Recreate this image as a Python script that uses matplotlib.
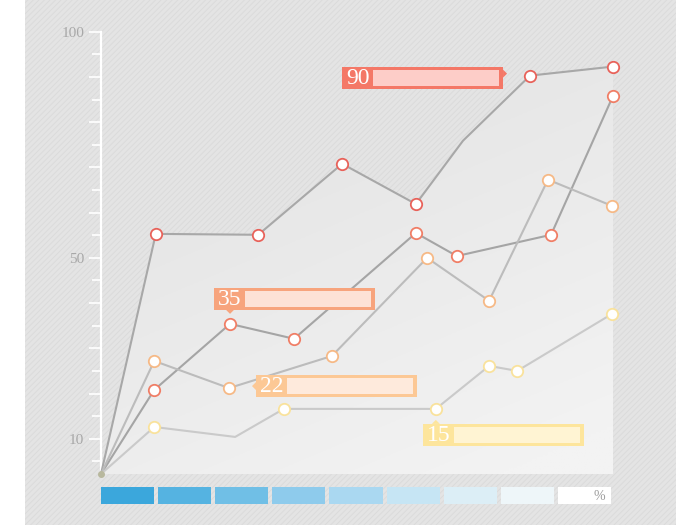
import matplotlib
matplotlib.use('Agg')
import matplotlib.pyplot as plt
import numpy as np
from matplotlib.patches import Rectangle, Polygon
from matplotlib.transforms import IdentityTransform

# data (x runs 0..100 across the panel)
x_a = [0, 10.7, 30.7, 47.1, 61.5, 70.7, 83.8, 100]
y_a = [2.2, 55.3, 55.1, 70.8, 61.9, 75.9, 90.3, 92.3]
m_a = [1, 2, 3, 4, 6, 7]  # points that carry a ring

x_b = [0, 10.4, 25.2, 37.7, 61.5, 69.5, 87.9, 100]
y_b = [2.2, 20.8, 35.4, 32.1, 55.5, 50.4, 55.1, 85.8]
m_b = [1, 2, 3, 4, 5, 6, 7]

x_c = [0, 10.4, 25.0, 45.1, 63.7, 75.8, 87.3, 99.8]
y_c = [2.2, 27.2, 21.2, 28.3, 50.0, 40.5, 67.3, 61.5]
m_c = [1, 2, 3, 4, 5, 6, 7]

x_d = [0, 10.4, 26.2, 35.7, 65.4, 75.8, 81.3, 99.8]
y_d = [2.2, 12.6, 10.4, 16.6, 16.6, 26.1, 25.0, 37.6]
m_d = [1, 3, 4, 5, 6, 7]

tick_labels = {10: '10', 50: '50', 100: '100'}
callouts = ['90', '35', '22', '15']
strip_colors = ['#3ba7dc', '#55b3e1', '#70bfe6', '#8ecbec', '#aad8f1',
                '#c6e5f4', '#dceef6', '#eef6f9', '#ffffff']

W, H = 700, 525
fig = plt.figure(figsize=(7, 5.25), dpi=100)
fig.patch.set_facecolor('white')

# hatched gray card
plt.rcParams['hatch.linewidth'] = 0.7
card = Rectangle((25 / W, 0), 651 / W, 1, transform=fig.transFigure,
                 facecolor='#e4e4e4', edgecolor='#dbdbdb', hatch='//////',
                 linewidth=0, zorder=-10)
fig.patches.append(card)

ax = fig.add_axes([101 / W, 51 / H, 512 / W, 454 / H])
ax.set_xlim(0, 100)
ax.set_ylim(2.2, 102.6)
ax.patch.set_alpha(0)

# light gradient under the top series
gx, gy = np.meshgrid(np.linspace(0, 1, 200), np.linspace(0, 1, 200))
t = np.clip(0.45 * gx + 0.95 * gy - 0.3, 0, 1)
lo = np.array([0xe4, 0xe4, 0xe4]) / 255
hi = np.array([0xf3, 0xf3, 0xf3]) / 255
img = lo + (hi - lo) * t[..., None]
im = ax.imshow(img, extent=[0, 100, 2.2, 102.6], origin='upper',
               aspect='auto', zorder=1)
poly = Polygon(list(zip(x_a, y_a)) + [(100, 2.2), (0, 2.2)], closed=True,
               transform=ax.transData, facecolor='none', edgecolor='none')
ax.add_patch(poly)
im.set_clip_path(poly)

series = [
    (x_a, y_a, m_a, '#a8a8a8', '#e8625a'),
    (x_b, y_b, m_b, '#a5a5a5', '#f07e66'),
    (x_c, y_c, m_c, '#bcbcbc', '#f6b986'),
    (x_d, y_d, m_d, '#cacaca', '#f9e29c'),
]
for xs, ys, ms, lc, mc in series:
    ax.plot(xs, ys, color=lc, lw=1.5, zorder=3, solid_joinstyle='round',
            clip_on=False)
for xs, ys, ms, lc, mc in series:
    ax.plot([xs[i] for i in ms], [ys[i] for i in ms], 'o', ms=8.2,
            mfc='white', mec=mc, mew=1.3, zorder=4, clip_on=False)
ax.plot([0], [2.2], 'o', ms=4, color='#b8b89e', zorder=5, clip_on=False)

# axis: white spine and ticks
for s in ['top', 'right', 'bottom']:
    ax.spines[s].set_visible(False)
ax.spines['left'].set_color('white')
ax.spines['left'].set_linewidth(1.6)
ax.spines['left'].set_bounds(2.2, 100)
ax.set_yticks(range(10, 101, 10))
ax.set_yticks(range(5, 100, 10), minor=True)
ax.set_yticklabels([tick_labels.get(v, '') for v in range(10, 101, 10)],
                   family='Liberation Serif', fontsize=11, color='#a8a8a8')
ax.tick_params(axis='y', which='major', length=8.5, width=1.2,
               color='white', pad=3.5)
ax.tick_params(axis='y', which='minor', length=6.5, width=1.2, color='white')
ax.set_xticks([])


# callout boxes, placed relative to the point they point at (pixels)
def callout(xv, yv, text, dx, dy, c_out, c_in, ptr):
    px, py = ax.transData.transform((xv, yv))
    left = px + dx
    top = py - dy
    w, h = 161, 22
    bottom = top - h
    fig.patches.append(Rectangle((left, bottom), w, h, transform=IdentityTransform(),
                                 facecolor=c_out, edgecolor='none', zorder=6))
    fig.patches.append(Rectangle((left + 31, bottom + 3), w - 35, h - 6,
                                 transform=IdentityTransform(),
                                 facecolor=c_in, edgecolor='none', zorder=7))
    s = 4
    if ptr == 'right':
        tri = [(left + w, py + 2 + s), (left + w + s, py + 2), (left + w, py + 2 - s)]
    elif ptr == 'bottom':
        tri = [(px - s, bottom), (px, bottom - s), (px + s, bottom)]
    elif ptr == 'left':
        tri = [(left, py + 2 + s), (left - s, py + 2), (left, py + 2 - s)]
    else:
        tri = [(px - s, top), (px, top + s), (px + s, top)]
    fig.patches.append(Polygon(tri, closed=True, transform=IdentityTransform(),
                               facecolor=c_out, edgecolor='none', zorder=6))
    fig.text((left + 15.5) / W, (bottom + h / 2 - 0.5) / H, text, color='white',
             family='Liberation Serif', fontsize=17, ha='center', va='center',
             zorder=8)


callout(x_a[6], y_a[6], callouts[0], -188, -9, '#f47867', '#fdcdc8', 'right')
callout(x_b[2], y_b[2], callouts[1], -16, -36, '#f7a47d', '#fde2d6', 'bottom')
callout(x_c[2], y_c[2], callouts[2], 27, -13, '#fcc895', '#feeadc', 'left')
callout(x_d[4], y_d[4], callouts[3], -13, 15, '#fde59c', '#fff4d3', 'top')

# colour strip under the chart
sx = fig.add_axes([101 / W, 21 / H, 514 / W, 17 / H])
sx.bar(np.arange(len(strip_colors)), np.ones(len(strip_colors)), width=0.93,
       align='edge', color=strip_colors)
sx.set_xlim(0, len(strip_colors))
sx.set_ylim(0, 1)
sx.axis('off')
sx.text(len(strip_colors) - 0.18, 0.45, '%', ha='right', va='center',
        color='#9a9a9a', fontsize=10, family='Liberation Serif')

fig.savefig('out.png', dpi=100)
